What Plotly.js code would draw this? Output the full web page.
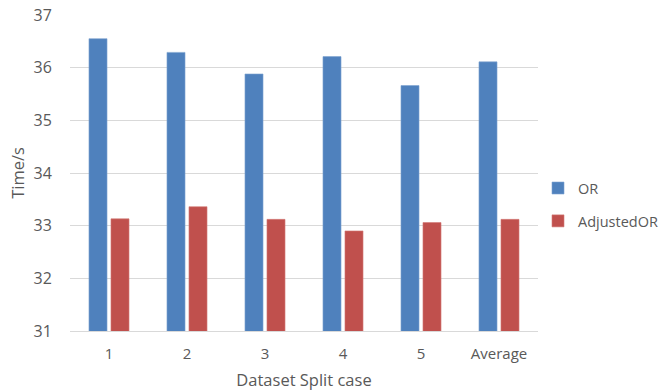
<!DOCTYPE html>
<html>
<head>
<meta charset="utf-8">
<script src="https://cdn.plot.ly/plotly-3.0.1.min.js"></script>
<style>
  html, body { margin: 0; padding: 0; background: #fff; }
  #chart { width: 666px; height: 391px; }
</style>
</head>
<body>
<div id="chart"></div>
<script>
// Split cases along the x axis
const categories = ['1', '2', '3', '4', '5', 'Average'];
// Running time in seconds for each method
const orTimes = [36.55, 36.29, 35.88, 36.21, 35.66, 36.11];
const adjustedOrTimes = [33.13, 33.36, 33.12, 32.90, 33.06, 33.12];
const yTicks = [31, 32, 33, 34, 35, 36, 37];

const font = '"Open Sans", "Noto Sans", sans-serif';
const textColor = '#595959';

const traces = [
  {
    type: 'bar', name: 'OR', x: categories, y: orTimes, legendgroup: 'or',
    marker: { color: '#4F81BD', line: { color: '#7ea3d0', width: 0.6 } }
  },
  {
    type: 'bar', name: 'AdjustedOR', x: categories, y: adjustedOrTimes, legendgroup: 'adj',
    marker: { color: '#C0504D', line: { color: '#d47a77', width: 0.6 } }
  }
];

const layout = {
  width: 666, height: 391,
  margin: { l: 70, r: 128, t: 15, b: 60, autoexpand: false },
  paper_bgcolor: '#fff', plot_bgcolor: '#fff',
  font: { family: font, size: 15, color: textColor },
  barmode: 'group', bargap: 0.436, bargroupgap: 0.18,
  showlegend: true,
  legend: {
    x: 1.0, y: 0.40, xanchor: 'left', yanchor: 'middle',
    font: { family: font, size: 14.5, color: textColor },
    itemwidth: 30, traceorder: 'grouped', tracegroupgap: 11
  },
  xaxis: {
    type: 'category', showgrid: false, zeroline: false,
    showline: true, linecolor: '#d9d9d9', linewidth: 1,
    ticks: 'outside', ticklen: 9, tickcolor: 'rgba(0,0,0,0)',
    tickfont: { family: font, size: 15, color: textColor },
    title: { text: 'Dataset Split case', font: { family: font, size: 16.5, color: textColor }, standoff: 13 }
  },
  yaxis: {
    range: [31, 37], tickvals: yTicks, ticktext: yTicks.map(String),
    showgrid: true, gridcolor: '#d9d9d9', gridwidth: 1, zeroline: false,
    showline: false,
    ticks: 'outside', ticklen: 14, tickcolor: 'rgba(0,0,0,0)',
    tickfont: { family: font, size: 16, color: textColor },
    title: { text: 'Time/s', font: { family: font, size: 16.5, color: textColor }, standoff: 4 }
  }
};

Plotly.newPlot('chart', traces, layout, { displayModeBar: false, staticPlot: true });
</script>
</body>
</html>
